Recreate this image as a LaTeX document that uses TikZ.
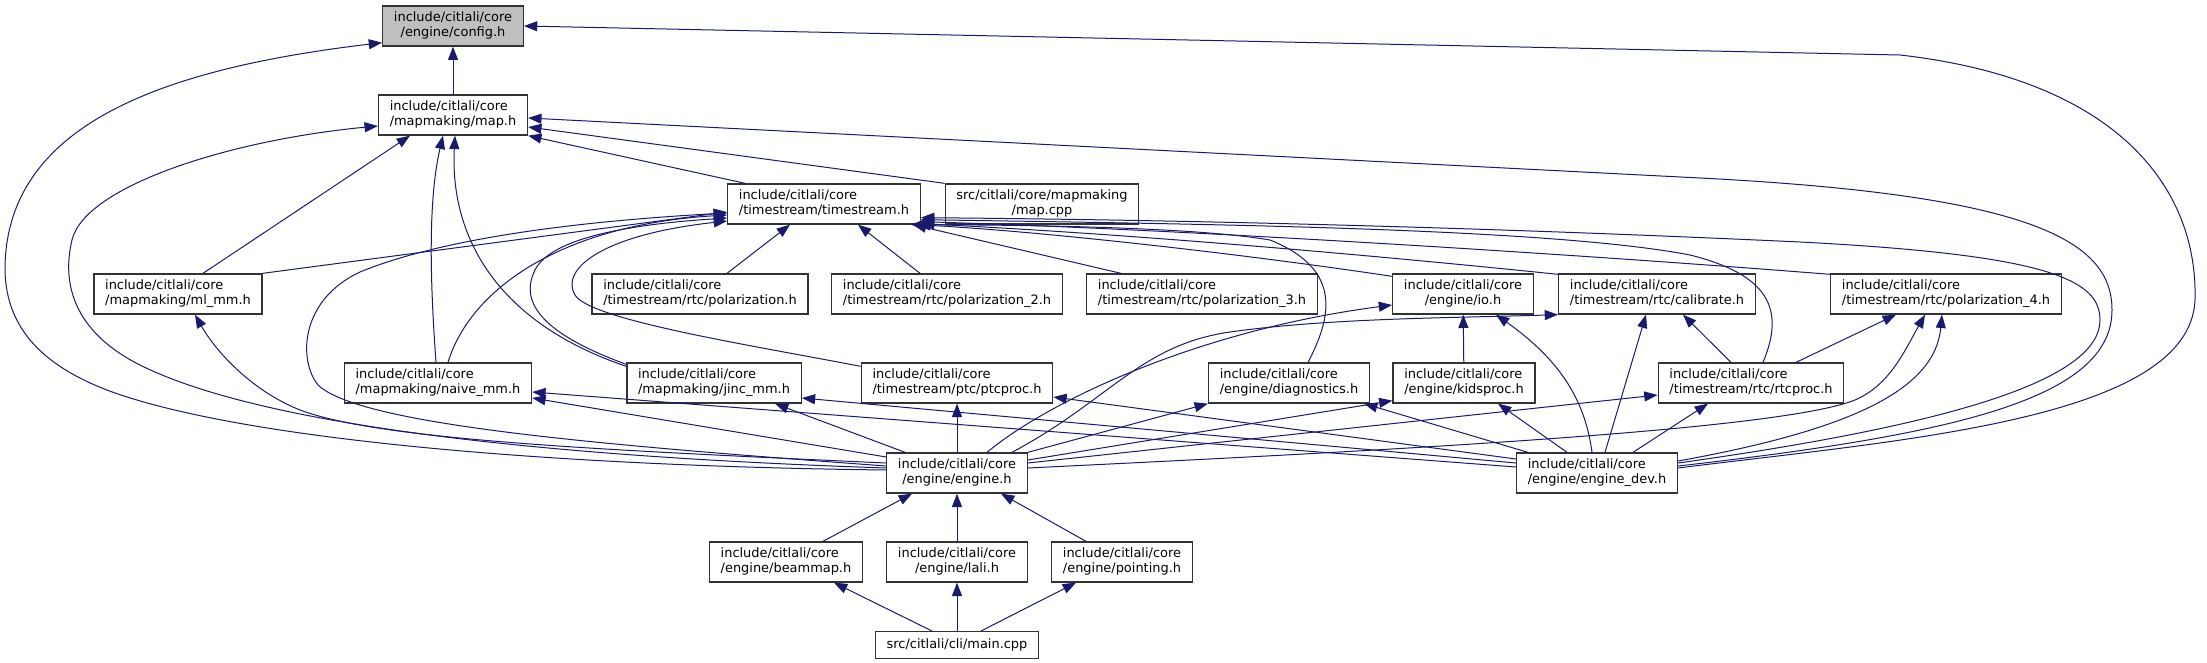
\documentclass[tikz,border=0pt]{standalone}
\usepackage{fontspec}
\setmainfont{DejaVu Sans}
\usetikzlibrary{arrows.meta}
\definecolor{edgeblue}{HTML}{191970}
\definecolor{rootgray}{HTML}{BFBFBF}
\definecolor{boxline}{HTML}{333333}
% first line flush left, second line centred (graphviz label layout)
\newcommand{\fname}[2]{\begin{tabular}{@{}l@{}}#1\\\multicolumn{1}{@{}c@{}}{#2}\end{tabular}}

\begin{document}
\begin{tikzpicture}[
  x=0.75pt, y=-0.75pt,
  box/.style={rectangle, draw=boxline, line width=1pt, fill=#1, minimum height=30pt, inner xsep=8.4pt, inner ysep=0pt, font=\fontsize{9.7}{11.3}\selectfont},
  box/.default=white,
  arr/.style={-{Triangle[length=10pt, width=7.5pt]}, line width=0.75pt, edgeblue}
]
  \useasboundingbox (0,0) rectangle (2207,663);

  \node[box=rootgray] (config) at (453,26) {\fname{include/citlali/core}{/engine/config.h}};
  \node[box] (map) at (453,115) {\fname{include/citlali/core}{/mapmaking/map.h}};
  \node[box] (ts) at (824,204) {\fname{include/citlali/core}{/timestream/timestream.h}};
  \node[box] (mapcpp) at (1042,204) {\fname{src/citlali/core/mapmaking}{/map.cpp}};

  \node[box] (mlmm) at (178,294) {\fname{include/citlali/core}{/mapmaking/ml\_mm.h}};
  \node[box] (pol) at (700,294) {\fname{include/citlali/core}{/timestream/rtc/polarization.h}};
  \node[box] (pol2) at (947,294) {\fname{include/citlali/core}{/timestream/rtc/polarization\_2.h}};
  \node[box] (pol3) at (1202,294) {\fname{include/citlali/core}{/timestream/rtc/polarization\_3.h}};
  \node[box] (io) at (1463,294) {\fname{include/citlali/core}{/engine/io.h}};
  \node[box] (calib) at (1657,294) {\fname{include/citlali/core}{/timestream/rtc/calibrate.h}};
  \node[box] (pol4) at (1946,294) {\fname{include/citlali/core}{/timestream/rtc/polarization\_4.h}};

  \node[box] (naive) at (438,383) {\fname{include/citlali/core}{/mapmaking/naive\_mm.h}};
  \node[box] (jinc) at (714,383) {\fname{include/citlali/core}{/mapmaking/jinc\_mm.h}};
  \node[box] (ptc) at (957,383) {\fname{include/citlali/core}{/timestream/ptc/ptcproc.h}};
  \node[box] (diag) at (1289,383) {\fname{include/citlali/core}{/engine/diagnostics.h}};
  \node[box] (kids) at (1464,383) {\fname{include/citlali/core}{/engine/kidsproc.h}};
  \node[box] (rtc) at (1751,383) {\fname{include/citlali/core}{/timestream/rtc/rtcproc.h}};

  \node[box] (engine) at (957,473) {\fname{include/citlali/core}{/engine/engine.h}};
  \node[box] (engdev) at (1597,473) {\fname{include/citlali/core}{/engine/engine\_dev.h}};

  \node[box] (beammap) at (786,562) {\fname{include/citlali/core}{/engine/beammap.h}};
  \node[box] (lali) at (957,562) {\fname{include/citlali/core}{/engine/lali.h}};
  \node[box] (pointing) at (1122,562) {\fname{include/citlali/core}{/engine/pointing.h}};
  \node[box, minimum height=20pt] (main) at (957,645) {src/citlali/cli/main.cpp};

  % into config.h
  \draw[arr] (map) -- (config);
  \draw[arr] ([shift={(0,-3)}]engine.west) .. controls (550,466) and (250,440) .. (115,393)
    .. controls (45,368) and (6,330) .. (5,270)
    .. controls (5,130) and (150,70) .. ([shift={(0,-4)}]config.south west);
  \draw[arr] ([shift={(0,-5)}]engdev.east) .. controls (1900,440) and (2190,420) .. (2195,300)
    .. controls (2198,190) and (2120,80) .. (1900,55) -- (config.east);

  % into map.h
  \draw[arr] ([shift={(18,0)}]ts.north west) -- (map.south east);
  \draw[arr] (mapcpp.north west) -- ([shift={(0,12)}]map.east);
  \draw[arr] ([shift={(0,-7)}]engdev.east) .. controls (1950,435) and (2112,400) .. (2112,310)
    .. controls (2112,240) and (2030,195) .. (1700,178) -- ([shift={(0,3)}]map.east);
  \draw[arr] ([shift={(25,0)}]mlmm.north) -- ([shift={(-43,0)}]map.south);
  \draw[arr] ([shift={(0,-5)}]engine.west) .. controls (500,455) and (250,420) .. (140,365)
    .. controls (80,335) and (60,290) .. (72,240)
    .. controls (85,186) and (230,140) .. ([shift={(0,11)}]map.west);
  \draw[arr] ([shift={(-2,0)}]naive.north) .. controls (430,280) and (428,200) .. ([shift={(-10,0)}]map.south);
  \draw[arr] ([shift={(0,4)}]jinc.north west) .. controls (490,320) and (450,230) .. ([shift={(2,0)}]map.south);

  % into timestream.h
  \draw[arr] (mlmm.north east) -- ([shift={(0,8)}]ts.west);
  \draw[arr] ([shift={(10,0)}]naive.north) .. controls (470,290) and (560,225) .. ([shift={(0,11)}]ts.west);
  \draw[arr] ([shift={(0,-7)}]engine.west) .. controls (600,445) and (360,425) .. (318,385)
    .. controls (298,360) and (300,300) .. (360,272)
    .. controls (450,235) and (600,220) .. ([shift={(0,9)}]ts.west);
  \draw[arr] ([shift={(0,2)}]jinc.north west) .. controls (560,340) and (515,310) .. (535,270)
    .. controls (550,240) and (620,225) .. ([shift={(0,14)}]ts.west);
  \draw[arr] ([shift={(0,4)}]ptc.north west) .. controls (750,345) and (590,320) .. (575,295)
    .. controls (560,270) and (600,235) .. ([shift={(0,17)}]ts.west);
  \draw[arr] ([shift={(27,0)}]pol.north) -- ([shift={(-34,0)}]ts.south);
  \draw[arr] ([shift={(-27,0)}]pol2.north) -- ([shift={(34,0)}]ts.south);
  \draw[arr] ([shift={(-81,0)}]pol3.north) -- ([shift={(-8,0)}]ts.south east);
  \draw[arr] ([shift={(0,3)}]io.north west) .. controls (1250,255) and (1050,232) .. ([shift={(-4,0)}]ts.south east);
  \draw[arr] ([shift={(0,1)}]calib.north west) .. controls (1400,258) and (1150,235) .. ([shift={(0,-1)}]ts.south east);
  \draw[arr] ([shift={(0,1)}]pol4.north west) .. controls (1600,256) and (1200,230) .. ([shift={(0,-3)}]ts.south east);
  \draw[arr] ([shift={(12,0)}]rtc.north) .. controls (1785,310) and (1770,275) .. (1690,255)
    .. controls (1550,228) and (1200,224) .. ([shift={(0,-5)}]ts.south east);
  \draw[arr] ([shift={(19,0)}]diag.north) .. controls (1330,320) and (1345,270) .. (1270,240)
    .. controls (1200,228) and (1050,225) .. ([shift={(-10,0)}]ts.south east);
  \draw[arr] ([shift={(0,-10)}]engdev.east) .. controls (1950,425) and (2100,380) .. (2100,320)
    .. controls (2100,280) and (2050,255) .. (1800,242)
    .. controls (1500,228) and (1200,220) .. ([shift={(0,-7)}]ts.south east);

  % engine.h
  \draw[arr] ([shift={(0,-10)}]engine.west) .. controls (600,450) and (380,440) .. (300,410)
    .. controls (250,390) and (215,350) .. ([shift={(17,0)}]mlmm.south);
  \draw[arr] ([shift={(0,-16)}]engine.west) -- ([shift={(0,15)}]naive.east);
  \draw[arr] ([shift={(19,0)}]engine.north west) -- ([shift={(61,0)}]jinc.south);
  \draw[arr] (engine) -- (ptc);
  \draw[arr] ([shift={(30,0)}]engine.north) .. controls (1050,400) and (1200,330) .. ([shift={(0,11)}]io.west);
  \draw[arr] ([shift={(55,0)}]engine.north) .. controls (1110,400) and (1140,345) .. (1230,332)
    .. controls (1330,318) and (1450,318) .. (calib.south west);
  \draw[arr] (engine.north east) -- (diag.south west);
  \draw[arr] ([shift={(0,-13)}]engine.east) -- ([shift={(0,-3)}]kids.south west);
  \draw[arr] ([shift={(0,-10)}]engine.east) -- ([shift={(0,12)}]rtc.west);
  \draw[arr] ([shift={(0,-5)}]engine.east) .. controls (1400,450) and (1780,430) .. (1855,400)
    .. controls (1890,385) and (1905,350) .. ([shift={(-21,0)}]pol4.south);

  % engine_dev.h
  \draw[arr] ([shift={(0,-6)}]engdev.west) -- ([shift={(0,9)}]naive.east);
  \draw[arr] ([shift={(0,-10)}]engdev.west) -- ([shift={(0,15)}]jinc.east);
  \draw[arr] ([shift={(0,-14)}]engdev.west) -- ([shift={(0,14)}]ptc.east);
  \draw[arr] ([shift={(12,0)}]engdev.north west) -- ([shift={(-6,0)}]diag.south east);
  \draw[arr] ([shift={(-30,0)}]engdev.north) -- ([shift={(34,0)}]kids.south);
  \draw[arr] ([shift={(-5,0)}]engdev.north) .. controls (1585,400) and (1560,360) .. ([shift={(33,0)}]io.south);
  \draw[arr] ([shift={(8,0)}]engdev.north) -- ([shift={(-11,0)}]calib.south);
  \draw[arr] ([shift={(36,0)}]engdev.north) -- ([shift={(-43,0)}]rtc.south);
  \draw[arr] ([shift={(0,-12)}]engdev.east) .. controls (1850,430) and (1935,390) .. ([shift={(-4,0)}]pol4.south);

  % rtcproc.h, kidsproc.h
  \draw[arr] ([shift={(-20,0)}]rtc.north) -- ([shift={(26,0)}]calib.south);
  \draw[arr] ([shift={(45,0)}]rtc.north) -- ([shift={(-50,0)}]pol4.south);
  \draw[arr] (kids) -- (io);

  % bottom rows
  \draw[arr] ([shift={(37,0)}]beammap.north) -- ([shift={(-45,0)}]engine.south);
  \draw[arr] (lali) -- (engine);
  \draw[arr] ([shift={(-36,0)}]pointing.north) -- ([shift={(44,0)}]engine.south);
  \draw[arr] ([shift={(-25,0)}]main.north) -- ([shift={(48,0)}]beammap.south);
  \draw[arr] (main) -- (lali);
  \draw[arr] ([shift={(24,0)}]main.north) -- ([shift={(-46,0)}]pointing.south);
\end{tikzpicture}
\end{document}
